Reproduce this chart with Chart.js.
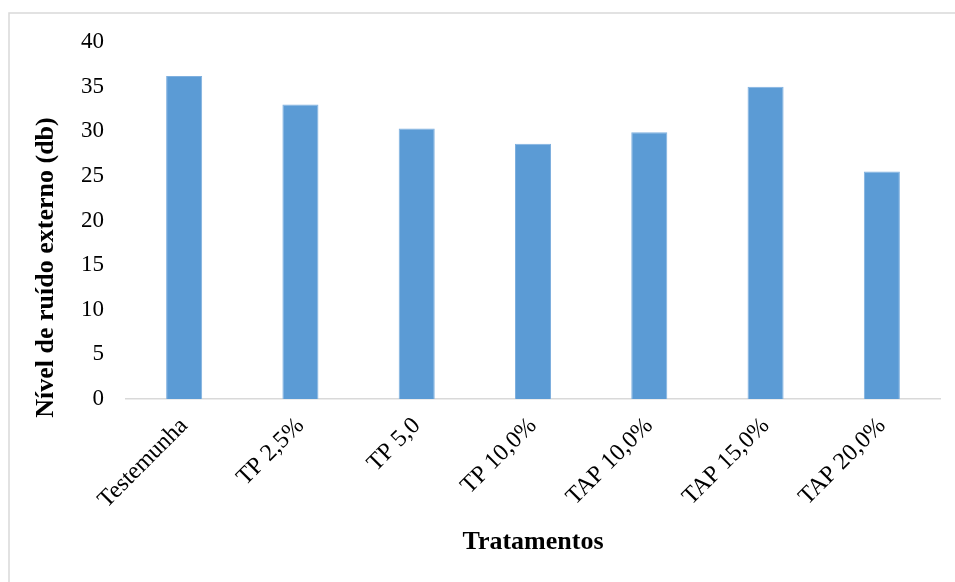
<!DOCTYPE html>
<html>
<head>
<meta charset="utf-8">
<script src="https://cdn.jsdelivr.net/npm/chart.js@4.4.0/dist/chart.umd.min.js"></script>
<style>
  html, body { margin: 0; padding: 0; background: #fff; }
  #wrap { width: 955px; height: 582px; position: relative; }
</style>
</head>
<body>
<div id="wrap"><canvas id="myChart" width="955" height="582"></canvas></div>
<script>
let labels = ["Testemunha", "TP 2,5%", "TP 5,0", "TP 10,0%", "TAP 10,0%", "TAP 15,0%", "TAP 20,0%"];
let ruido = [36.2, 33.0, 30.3, 28.6, 29.9, 35.0, 25.5];
let yTitle = "Nível de ruído externo (db)";

let serif = "'Liberation Serif', 'Times New Roman', serif";

// outer frame of the figure, runs off the right/bottom edge
const frame = {
  id: "frame",
  beforeDraw(chart) {
    const c = chart.ctx;
    c.save();
    c.fillStyle = "#fff";
    c.fillRect(0, 0, chart.width, chart.height);
    c.strokeStyle = "#d9d9d9";
    c.lineWidth = 1.5;
    c.strokeRect(9, 13, 980, 620);
    c.restore();
  }
};

// y title sits lower than the plot centre in the original (Excel centres it on the whole plot+labels)
const yTitlePlugin = {
  id: "yTitle",
  afterDraw(chart) {
    const c = chart.ctx;
    const area = chart.chartArea;
    c.save();
    c.translate(46, (area.top + area.bottom) / 2 + 47);
    c.rotate(-Math.PI / 2);
    c.font = "bold 26px " + serif;
    c.fillStyle = "#000";
    c.textAlign = "center";
    c.textBaseline = "middle";
    c.fillText(yTitle, 0, 0);
    c.restore();
  }
};

let ctx = document.getElementById("myChart").getContext("2d");

let myChart = new Chart(ctx, {
  type: "bar",
  data: {
    labels: labels,
    datasets: [
      {
        data: ruido,
        backgroundColor: "#5b9bd5",
        borderColor: "#7fb0df",
        borderWidth: 1,
        categoryPercentage: 1,
        barPercentage: 0.31,
      },
    ],
  },
  plugins: [frame, yTitlePlugin],
  options: {
    responsive: false,
    animation: false,
    layout: { padding: { left: 20, top: 42, right: 15, bottom: 20 } },
    plugins: {
      legend: { display: false },
      tooltip: { enabled: false },
    },
    scales: {
      y: {
        min: 0,
        max: 40,
        afterFit(scale) { scale.width = 106; },
        ticks: {
          stepSize: 5,
          padding: 22,
          color: "#000",
          font: { family: serif, size: 23 },
        },
        grid: { display: false, drawTicks: false },
        border: { display: false },
      },
      x: {
        afterFit(scale) { scale.height = 163; },
        ticks: {
          minRotation: 45,
          maxRotation: 45,
          padding: 13,
          color: "#000",
          font: { family: serif, size: 24 },
        },
        grid: { display: false, drawTicks: false },
        border: { color: "#d9d9d9", width: 1.5 },
        title: {
          display: true,
          text: "Tratamentos",
          color: "#000",
          font: { family: serif, size: 26, weight: "bold" },
          padding: { top: 0, bottom: 4 },
        },
      },
    },
  },
});
</script>
</body>
</html>
